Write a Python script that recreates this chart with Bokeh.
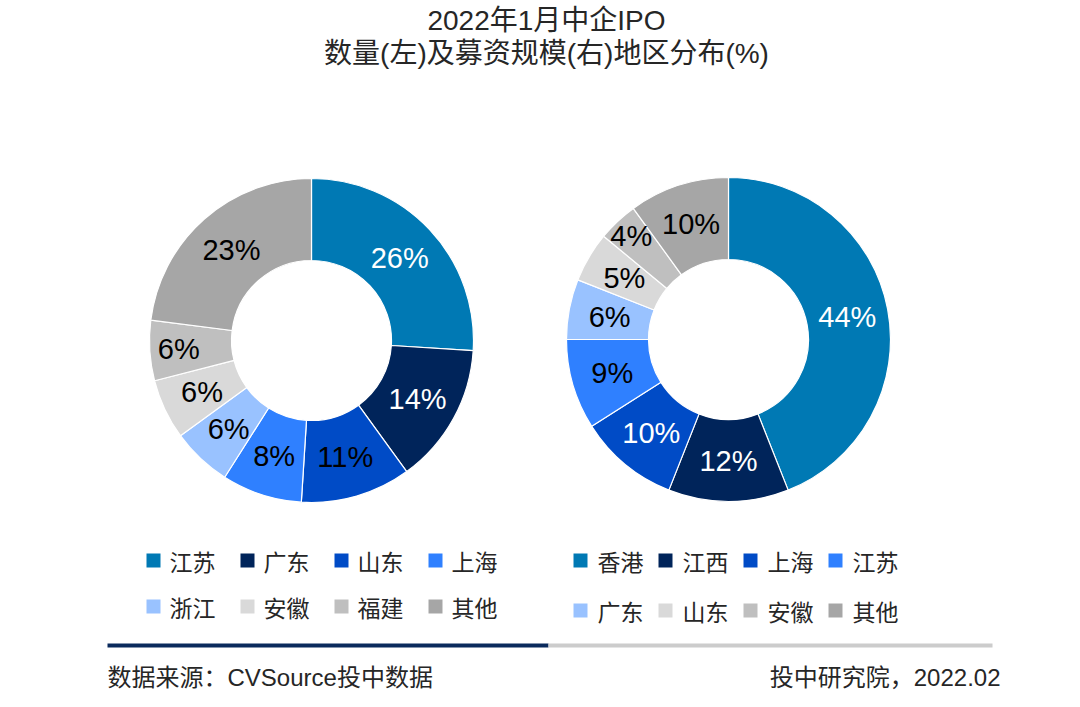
import math
from bokeh.plotting import figure
from bokeh.models import Range1d
from bokeh.core.properties import value
from bokeh.embed import file_html
from bokeh.resources import INLINE

# ---------------- data ----------------
title_lines = ["2022年1月中企IPO", "数量(左)及募资规模(右)地区分布(%)"]
left_regions = ["江苏", "广东", "山东", "上海", "浙江", "安徽", "福建", "其他"]
left_values = [26, 14, 11, 8, 6, 6, 6, 23]
right_regions = ["香港", "江西", "上海", "江苏", "广东", "山东", "安徽", "其他"]
right_values = [44, 12, 10, 9, 6, 5, 4, 10]
source_text = "数据来源：CVSource投中数据"
credit_text = "投中研究院，2022.02"

# ---------------- style ----------------
W, H = 1080, 707
palette = ["#0079B4", "#00245A", "#004BC6", "#2F80FF", "#99C2FF", "#D9D9D9", "#BFBFBF", "#A6A6A6"]
left_label_colors = ["white", "white", "black", "black", "black", "black", "black", "black"]
right_label_colors = ["white", "white", "white", "black", "black", "black", "black", "black"]
FONT = "Liberation Sans, Noto Sans CJK SC"
CJK = "Noto Sans CJK SC"
TXT = "#262626"

p = figure(width=W, height=H, output_backend="svg", toolbar_location=None,
           x_range=Range1d(0, W), y_range=Range1d(0, H), min_border=0)
p.axis.visible = False
p.grid.visible = False
p.outline_line_color = None
p.background_fill_color = "white"
p.border_fill_color = "white"


def Y(py):
    return H - py


def donut(cx, cy, values, label_colors, label_r, label_r_override=None):
    total = float(sum(values))
    cum = 0.0
    starts, ends, lx, ly, txt = [], [], [], [], []
    for i, v in enumerate(values):
        a0 = math.pi / 2 - 2 * math.pi * (cum + v) / total
        a1 = math.pi / 2 - 2 * math.pi * cum / total
        starts.append(a0)
        ends.append(a1)
        mid = (a0 + a1) / 2
        r = label_r
        if label_r_override and i in label_r_override:
            r = label_r_override[i]
        lx.append(cx + r * math.cos(mid))
        ly.append(Y(cy) + r * math.sin(mid))
        txt.append(f"{v}%")
        cum += v
    p.annular_wedge(x=[cx] * len(values), y=[Y(cy)] * len(values),
                    inner_radius=80, outer_radius=162,
                    start_angle=starts, end_angle=ends,
                    fill_color=palette, line_color="white", line_width=1.2)
    p.text(x=lx, y=ly, text=txt, text_color=label_colors,
           text_font=value("Liberation Sans"), text_font_size="29px",
           text_align="center", text_baseline="middle")


donut(311, 340, left_values, left_label_colors, 121, {6: 133})
donut(728, 339, right_values, right_label_colors, 121, {6: 142})

# title
p.text(x=[546, 546], y=[Y(20), Y(53)], text=title_lines, text_color=TXT,
       text_font=value(FONT), text_font_size="28px",
       text_align="center", text_baseline="middle")


def legend(names, x0, dx, ys, gap):
    xs, yy, tx, ty = [], [], [], []
    for i, n in enumerate(names):
        row, col = divmod(i, 4)
        sx = x0 + col * dx
        xs.append(sx + 7)
        yy.append(Y(ys[row]))
        tx.append(sx + gap)
        ty.append(Y(ys[row]))
    p.rect(x=xs, y=yy, width=14, height=14, fill_color=palette, line_color=None)
    p.text(x=tx, y=ty, text=names, text_color=TXT,
           text_font=value(CJK), text_font_size="23px",
           text_align="left", text_baseline="middle")


legend(left_regions, 146, 94, [560, 606], 23)
legend(right_regions, 573, 85, [560, 610], 24)

# footer rule
p.rect(x=[(107 + 548) / 2], y=[Y(645)], width=548 - 107, height=4,
       fill_color="#0A2A5C", line_color=None)
p.rect(x=[(548 + 992) / 2], y=[Y(645)], width=992 - 548, height=4,
       fill_color="#CCCCCC", line_color=None)

p.text(x=[107], y=[Y(677)], text=[source_text], text_color=TXT,
       text_font=value(FONT), text_font_size="24px",
       text_align="left", text_baseline="middle")
p.text(x=[1000], y=[Y(677)], text=[credit_text], text_color=TXT,
       text_font=value(FONT), text_font_size="24px",
       text_align="right", text_baseline="middle")

open("out.html", "w").write(file_html(p, INLINE))
